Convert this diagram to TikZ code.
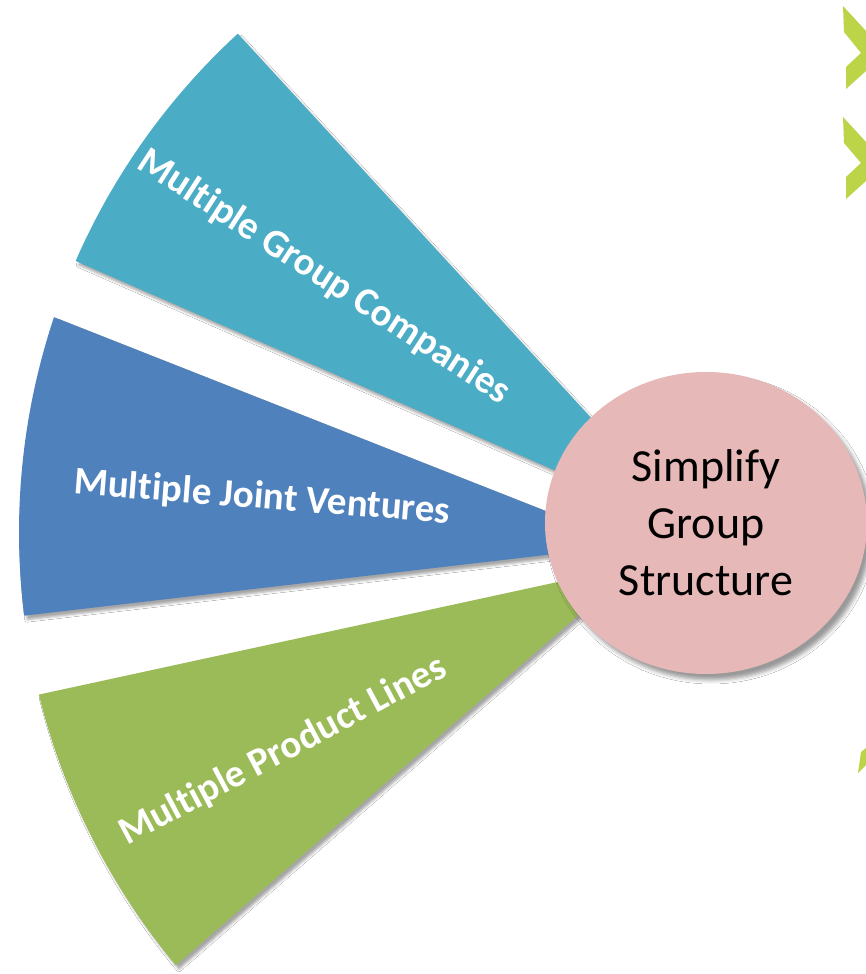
\documentclass[tikz,border=0pt]{standalone}
\usepackage{fontspec}
\setmainfont{Carlito}[Ligatures=NoCommon]
\usetikzlibrary{shapes.geometric,shadows.blur,calc}
\definecolor{grpteal}{RGB}{75,172,198}
\definecolor{grpblue}{RGB}{79,129,189}
\definecolor{grpgreen}{RGB}{155,187,89}
\definecolor{grppink}{RGB}{230,184,183}
\definecolor{grplime}{RGB}{187,212,72}
\begin{document}
\begin{tikzpicture}[x=1pt,y=1pt,
  fan/.style={blur shadow={shadow xshift=3pt,shadow yshift=-4pt,shadow blur radius=2.5pt,shadow opacity=35}},
  fanlabel/.style={text=white,inner sep=0pt,font=\bfseries\fontsize{39}{47}\selectfont},
  chev/.style={fill=grplime}]
  \useasboundingbox[fill=white] (0,0) rectangle (866,974);

  \fill[chev] (843,968) -- (866,943) -- (866,903) -- (846,885) -- (846,907) -- (861,921) -- (844,942) -- cycle;
  \fill[chev] (843,857) -- (866,832) -- (866,793) -- (846,775) -- (846,797) -- (861,811) -- (844,831) -- cycle;
  \fill[chev] (858,201) -- (861,222) -- (866,226) -- (866,209) -- cycle;

  \coordinate (c) at (696,442);
  \coordinate (blueapex) at (632,429);
  \coordinate (greenapex) at (636,409);

  \path[fan,fill=grpteal] (c) -- ($(c)+(132.6:677)$) arc[start angle=132.6,end angle=156.4,radius=677] -- cycle;
  \path[fan,fill=grpblue] (blueapex) -- ($(c)+(161.5:677)$) arc[start angle=161.5,end angle=187.1,radius=677] -- cycle;
  \path[fan,fill=grpgreen] (greenapex) -- ($(c)+(193.9:677)$) arc[start angle=193.9,end angle=219.8,radius=677] -- cycle;

  \node[fanlabel,rotate=-33] (companies) at (324,697) {Multiple Group Companies};
  \node[fanlabel,rotate=-4.5] (ventures) at (262,476) {Multiple Joint Ventures};
  \node[fanlabel,rotate=28] (products) at (283,223) {Multiple Product Lines};

  \node[ellipse,fill=grppink,minimum width=322pt,minimum height=302pt,inner sep=0pt,
    blur shadow={shadow xshift=5pt,shadow yshift=-6pt,shadow blur radius=4pt,shadow opacity=40},
    align=center,font=\fontsize{46}{57}\selectfont] (simp) at (706,451) {Simplify\\Group\\Structure};
\end{tikzpicture}
\end{document}
